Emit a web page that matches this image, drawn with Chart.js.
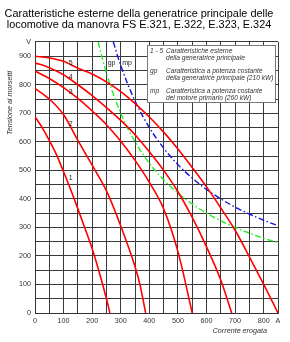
<!DOCTYPE html>
<html>
<head>
<meta charset="utf-8">
<script src="https://cdn.jsdelivr.net/npm/chart.js@4/dist/chart.umd.min.js"></script>
<style>
html,body{margin:0;padding:0;background:#fff;}
#wrap{width:290px;height:342px;}
</style>
</head>
<body>
<div id="wrap"><canvas id="c" width="290" height="342"></canvas></div>
<script>
// ---- data ----
const titleLines = ["Caratteristiche esterne della generatrice principale delle",
                    "locomotive da manovra FS E.321, E.322, E.323, E.324"];
const yAxisTitle = "Tensione ai morsetti";
const xAxisTitle = "Corrente erogata";
const xUnit = "A";
const yUnit = "V";

const c1I = [0, 25, 50, 75, 100, 125, 150, 175, 200, 225, 250, 262];
const c1V = [688, 650, 605, 555, 495, 432, 365, 296, 225, 142, 50, 0];

const c2I = [0, 50, 100, 150, 200, 250, 300, 350, 367, 387];
const c2V = [787, 750, 695, 605, 518, 428, 305, 162, 100, 0];

const c3I = [0, 50, 100, 150, 200, 250, 300, 350, 400, 450, 500, 550];
const c3V = [848, 822, 790, 752, 708, 660, 602, 535, 458, 365, 215, 0];

const c4I = [0, 50, 100, 150, 200, 250, 300, 350, 400, 450, 500, 550, 600, 650, 688];
const c4V = [877, 860, 835, 800, 762, 720, 675, 625, 565, 500, 425, 335, 232, 115, 0];

const c5I = [0, 50, 100, 150, 200, 250, 300, 350, 400, 450, 500, 550, 600, 650, 700, 750, 800, 850];
const c5V = [900, 894, 882, 858, 838, 810, 776, 734, 687, 634, 575, 510, 442, 368, 290, 197, 100, 0];

const gpI = [221, 250, 300, 350, 400, 450, 500, 550, 600, 650, 700, 750, 800, 850];
const gpV = [950, 840, 700, 600, 525, 467, 420, 382, 350, 323, 300, 280, 262, 247];

const mpI = [274, 300, 350, 400, 450, 500, 550, 600, 650, 700, 750, 800, 850];
const mpV = [950, 867, 743, 650, 578, 520, 473, 433, 400, 371, 347, 325, 306];

const curveNames = ["1", "2", "3", "4", "5"];
const curveLabelI = [125, 125, 125, 125, 125];
const curveLabelV = [472, 662, 775, 826, 877];
const markNames = ["gp", "mp"];
const markLabelI = [268, 322];
const markLabelV = [876, 876];

const legendRows = [
  ["1 - 5", "Caratteristiche esterne", "della generatrice principale"],
  ["gp", "Caratteristica a potenza costante", "della generatrice principale (210 kW)"],
  ["mp", "Caratteristica a potenza costante", "del motore primario (260 kW)"]
];

// ---- build ----
function pts(I, V){ return I.map((x, i) => ({x: x, y: V[i]})); }
const FONT = "'Liberation Sans', Arial, sans-serif";

const redStyle = {borderColor:'#ff0000', borderWidth:1.6, pointRadius:0, fill:false,
                  cubicInterpolationMode:'monotone'};

const datasets = [
  Object.assign({label:'1', data: pts(c1I, c1V)}, redStyle),
  Object.assign({label:'2', data: pts(c2I, c2V)}, redStyle),
  Object.assign({label:'3', data: pts(c3I, c3V)}, redStyle),
  Object.assign({label:'4', data: pts(c4I, c4V)}, redStyle),
  Object.assign({label:'5', data: pts(c5I, c5V)}, redStyle),
  {label:'gp', data: pts(gpI, gpV), borderColor:'#22ee22', borderWidth:1.4, pointRadius:0,
   borderDash:[6,2.5,1.5,2.5], cubicInterpolationMode:'monotone', fill:false},
  {label:'mp', data: pts(mpI, mpV), borderColor:'#1111dd', borderWidth:1.4, pointRadius:0,
   borderDash:[6,2.5,1.5,2.5], cubicInterpolationMode:'monotone', fill:false}
];

const textPlugin = {
  id: 'texts',
  afterDatasetsDraw(chart){
    const ctx = chart.ctx, xs = chart.scales.x, ys = chart.scales.y, ca = chart.chartArea;
    ctx.save();
    // curve labels
    ctx.fillStyle = '#222';
    ctx.font = "7px " + FONT;
    ctx.textAlign = 'center'; ctx.textBaseline = 'middle';
    curveNames.forEach((n, i) => ctx.fillText(n, xs.getPixelForValue(curveLabelI[i]), ys.getPixelForValue(curveLabelV[i])));
    markNames.forEach((n, i) => ctx.fillText(n, xs.getPixelForValue(markLabelI[i]), ys.getPixelForValue(markLabelV[i])));

    // legend box
    const bx = ca.left + 112, by = ca.top + 3, bw = 128, bh = 57;
    ctx.fillStyle = '#fff';
    ctx.fillRect(bx, by, bw, bh);
    ctx.strokeStyle = '#777'; ctx.lineWidth = 1;
    ctx.strokeRect(Math.round(bx) + 0.5, Math.round(by) + 0.5, bw, bh);
    ctx.fillStyle = '#333';
    ctx.font = "italic 6.6px " + FONT;
    ctx.textAlign = 'left';
    legendRows.forEach((r, i) => {
      const y0 = by + 6.5 + i * 20;
      ctx.fillText(r[0], bx + 3, y0);
      ctx.fillText(r[1], bx + 19, y0);
      ctx.fillText(r[2], bx + 19, y0 + 6.5);
    });

    // axis titles
    ctx.fillStyle = '#333';
    ctx.font = "italic 7.2px " + FONT;
    ctx.textAlign = 'right';
    ctx.fillText(xAxisTitle, ca.right - 11, chart.height - 11);
    ctx.save();
    ctx.translate(10, 103);
    ctx.rotate(-Math.PI / 2);
    ctx.textAlign = 'center';
    ctx.fillText(yAxisTitle, 0, 0);
    ctx.restore();
    ctx.restore();
  }
};

new Chart(document.getElementById('c'), {
  type: 'line',
  data: { datasets: datasets },
  options: {
    responsive: false,
    animation: false,
    devicePixelRatio: 1,
    layout: { padding: { left: 0, right: 12, top: 0, bottom: 0 } },
    plugins: {
      legend: { display: false },
      tooltip: { enabled: false },
      title: {
        display: true,
        text: titleLines,
        color: '#000',
        font: { family: FONT, size: 10.9, weight: 'normal', lineHeight: 0.98 },
        padding: { top: 9, bottom: 11.6 }
      }
    },
    scales: {
      x: {
        type: 'linear', min: 0, max: 850,
        border: { display: true, color: '#333' },
        grid: { color: '#3a3a3a', lineWidth: 1, drawTicks: false },
        ticks: {
          stepSize: 50, autoSkip: false, maxRotation: 0, padding: 4,
          color: '#333', font: { family: FONT, size: 7.2 },
          callback: (v) => v === 850 ? xUnit : (v % 100 === 0 ? String(v) : '')
        },
        afterFit(s){ s.height = 29; s.paddingLeft = 0; s.paddingRight = 0; }
      },
      y: {
        type: 'linear', min: 0, max: 950,
        border: { display: true, color: '#333' },
        grid: { color: '#3a3a3a', lineWidth: 1, drawTicks: false },
        ticks: {
          stepSize: 50, autoSkip: false, padding: 4,
          color: '#333', font: { family: FONT, size: 7.2 },
          callback: (v) => v === 950 ? yUnit : (v % 100 === 0 ? String(v) : '')
        },
        afterFit(s){ s.width = 35; s.paddingTop = 0; s.paddingBottom = 0; }
      }
    }
  },
  plugins: [textPlugin]
});
</script>
</body>
</html>
